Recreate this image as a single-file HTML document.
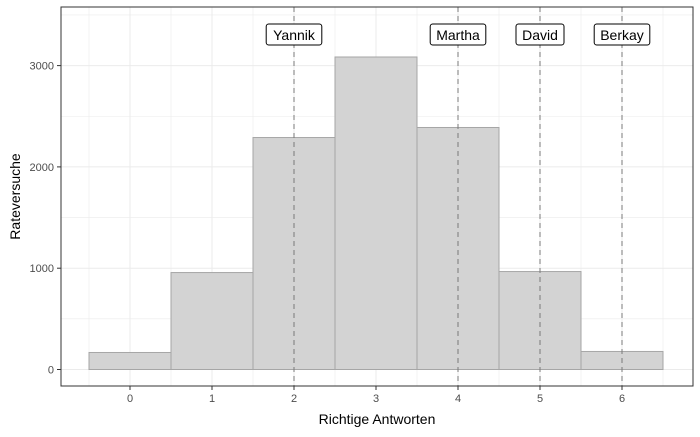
<!DOCTYPE html>
<html><head><meta charset="utf-8"><style>
body{margin:0;background:#fff;font-family:"Liberation Sans",sans-serif}
</style></head><body>
<svg id="chart" width="700" height="432" xmlns="http://www.w3.org/2000/svg" font-family="Liberation Sans, sans-serif"></svg>
<script>
const categories=[0,1,2,3,4,5,6];
const counts=[168,957,2290,3085,2389,967,178];
const yTicks=[0,1000,2000,3000];
const markerNames=["Yannik","Martha","David","Berkay"];
const markerValues=[2,4,5,6];

const L=61,R=693,T=7,B=386;
const X=v=>130+v*82;
const Y=v=>369.5-v*0.1013;
const svg=document.getElementById('chart');
const NS='http://www.w3.org/2000/svg';
function mk(tag,attrs,parent){const e=document.createElementNS(NS,tag);for(const k in attrs)e.setAttribute(k,attrs[k]);(parent||svg).appendChild(e);return e;}

// grid
const grid=mk('g',{});


for(let v=-500;v<=3500;v+=500){const y=Y(v);if(y<T||y>B)continue;
 mk('line',{x1:L,x2:R,y1:y,y2:y,stroke:'#ebebeb','stroke-width':v%1000===0?1:0.6},grid);}
for(let v=-0.5;v<=6.5;v+=0.5){const x=X(v);
 mk('line',{x1:x,x2:x,y1:T,y2:B,stroke:'#ebebeb','stroke-width':Number.isInteger(v)?1:0.6},grid);}

// bars
categories.forEach((c,i)=>{
 const r=mk('rect',{x:X(c-0.5),y:Y(counts[i]),width:82,height:Y(0)-Y(counts[i]),fill:'#d3d3d3',stroke:'#a6a6a6','stroke-width':1});
 
 
});

// markers
markerNames.forEach((n,i)=>{
 const x=X(markerValues[i]);
 const l=mk('line',{x1:x,x2:x,y1:T,y2:B,stroke:'#7a7a7a','stroke-dasharray':'5,4','stroke-width':1});
 
 
 const w=n.length*7.6+10;
 const bx=mk('rect',{x:x-w/2,y:24,width:w,height:21,rx:2.5,fill:'#fff',stroke:'#000','stroke-width':1});
 
 
 const t=mk('text',{x:x,y:40,'text-anchor':'middle','font-size':14,fill:'#000'});
 t.textContent=n;
 
 
});

// panel border
const pb=mk('rect',{x:L,y:T,width:R-L,height:B-T,fill:'none',stroke:'#333','stroke-width':1});



// ticks
yTicks.forEach(v=>{const y=Y(v);
 mk('line',{x1:L-4,x2:L,y1:y,y2:y,stroke:'#333'});
 const t=mk('text',{x:L-7,y:y+4,'text-anchor':'end','font-size':11,fill:'#4d4d4d'});t.textContent=v;
 
 
});
categories.forEach(c=>{const x=X(c);
 mk('line',{x1:x,x2:x,y1:B,y2:B+4,stroke:'#333'});
 const t=mk('text',{x:x,y:B+16,'text-anchor':'middle','font-size':11,fill:'#4d4d4d'});t.textContent=c;
 
 
});

const xt=mk('text',{x:(L+R)/2,y:424,'text-anchor':'middle','font-size':14,fill:'#000'});
xt.textContent='Richtige Antworten';


const yt=mk('text',{x:0,y:0,'text-anchor':'middle','font-size':14,fill:'#000',transform:`translate(20,${(T+B)/2}) rotate(-90)`});
yt.textContent='Rateversuche';


</script>
</body></html>
